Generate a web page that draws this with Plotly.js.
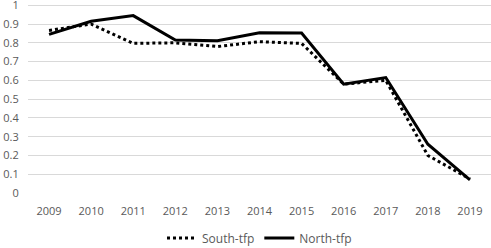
<!DOCTYPE html>
<html><head><meta charset="utf-8">
<script src="https://cdn.plot.ly/plotly-3.0.1.min.js"></script>
<style>html,body{margin:0;padding:0;background:#fff}#c{width:491px;height:248px}</style>
</head><body><div id="c"></div>
<script>
const years = ['2009','2010','2011','2012','2013','2014','2015','2016','2017','2018','2019'];
const southTfp = [0.866, 0.90, 0.797, 0.80, 0.78, 0.806, 0.797, 0.58, 0.60, 0.20, 0.075];
const northTfp = [0.845, 0.915, 0.945, 0.815, 0.811, 0.853, 0.852, 0.58, 0.615, 0.26, 0.07];
const yTicks = [0,0.1,0.2,0.3,0.4,0.5,0.6,0.7,0.8,0.9,1];
const yTickText = ['0','0.1','0.2','0.3','0.4','0.5','0.6','0.7','0.8','0.9','1'];

const traces = [
  {x: years, y: southTfp, name: 'South-tfp', type: 'scatter', mode: 'lines',
   line: {color: '#000', width: 3, dash: 'dot'}},
  {x: years, y: northTfp, name: 'North-tfp', type: 'scatter', mode: 'lines',
   line: {color: '#000', width: 3}}
];
const layout = {
  width: 491, height: 248,
  margin: {l: 28, r: 0, t: 3, b: 55},
  paper_bgcolor: '#fff', plot_bgcolor: '#fff',
  font: {family: 'Open Sans, sans-serif', size: 11, color: '#595959'},
  showlegend: true,
  legend: {orientation: 'h', x: 0.5, xanchor: 'center', xref: 'paper',
           y: 0.04, yanchor: 'middle', yref: 'container',
           font: {size: 12, color: '#595959'}},
  xaxis: {type: 'category', showgrid: false, zeroline: false, showline: false,
          ticks: 'outside', ticklen: 8, tickcolor: 'rgba(0,0,0,0)',
          tickfont: {size: 11}, range: [-0.5, 10.5], fixedrange: true, automargin: false},
  yaxis: {range: [0, 1.012], tickvals: yTicks, ticktext: yTickText, showgrid: true,
          gridcolor: '#d9d9d9', gridwidth: 1, zeroline: false, showline: false,
          ticks: 'outside', ticklen: 6, tickcolor: 'rgba(0,0,0,0)',
          tickfont: {size: 11}, fixedrange: true, automargin: false,
          ticklabeloverflow: 'allow'}
};
Plotly.newPlot('c', traces, layout, {displayModeBar: false, staticPlot: true});
</script></body></html>
